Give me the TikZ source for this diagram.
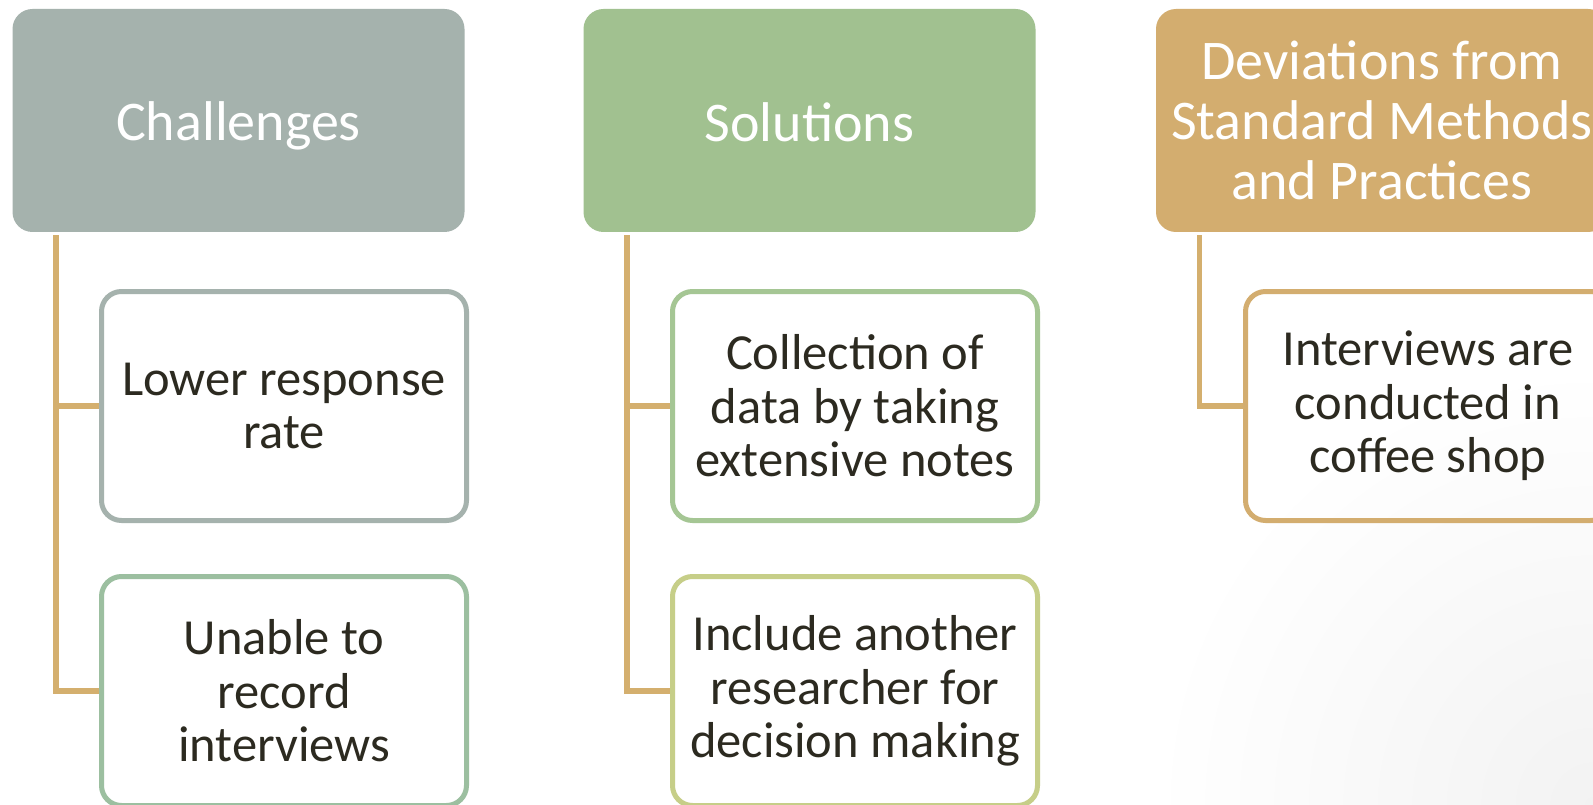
\documentclass[tikz,border=0pt]{standalone}
\usepackage{fontspec}
\setmainfont{Carlito}
\definecolor{cgray}{HTML}{A5B2AD}
\definecolor{cgreen}{HTML}{A1C190}
\definecolor{cgold}{HTML}{D3AD6F}
\definecolor{cline}{HTML}{D4AF6E}
\definecolor{bgreen}{HTML}{9CBFA0}
\definecolor{bleaf}{HTML}{A5C694}
\definecolor{blime}{HTML}{C6CE88}
\definecolor{ctext}{HTML}{2C2A20}
\tikzset{
  headbox/.style={rectangle, rounded corners=20pt, minimum width=452pt, minimum height=223pt,
    inner sep=0pt, align=center, text=white, font=\fontsize{56}{60}\selectfont},
  childbox/.style={rectangle, rounded corners=20pt, draw, line width=5pt, minimum width=365pt,
    minimum height=229pt, inner sep=0pt, align=center, text=ctext, font=\fontsize{50.5}{53.5}\selectfont},
  conn/.style={draw=cline, line width=5.5pt}
}
\begin{document}
\begin{tikzpicture}[x=1pt,y=-1pt]
\useasboundingbox (0,0) rectangle (1593,805);
\clip (0,0) rectangle (1593,805);
\fill[white] (0,0) rectangle (1593,805);
\shade[inner color=black!5, outer color=white] (1593,805) circle (440pt);

% column 1
\node[headbox, fill=cgray] (ch) at (238.5,120.5) {\raisebox{-5pt}[\height][\depth]{Challenges}};
\node[childbox, draw=cgray] (c1) at (284,406) {Lower response\\rate};
\node[childbox, draw=bgreen] (c2) at (284,691) {Unable to\\record\\interviews};
\draw[conn] ([xshift=-182.5pt,yshift=-3pt]ch.south) |- (c1.west);
\draw[conn] ([xshift=-182.5pt,yshift=-3pt]ch.south) |- (c2.west);

% column 2
\node[headbox, fill=cgreen] (so) at (809.5,120.5) {\raisebox{-2pt}[\height][\depth]{Solutions}};
\node[childbox, draw=bleaf] (s1) at (855,406) {Collection of\\data by taking\\extensive notes};
\node[childbox, draw=blime] (s2) at (855,691) {Include another\\researcher for\\decision making};
\draw[conn] ([xshift=-182.5pt,yshift=-3pt]so.south) |- (s1.west);
\draw[conn] ([xshift=-182.5pt,yshift=-3pt]so.south) |- (s2.west);

% column 3
\node[headbox, fill=cgold] (de) at (1382,120.5) {Deviations from\\Standard Methods\\and Practices};
\node[childbox, draw=cgold] (d1) at (1428,406) {Interviews are\\conducted in\\coffee shop};
\draw[conn] ([xshift=-182.5pt,yshift=-3pt]de.south) |- (d1.west);
\end{tikzpicture}
\end{document}
